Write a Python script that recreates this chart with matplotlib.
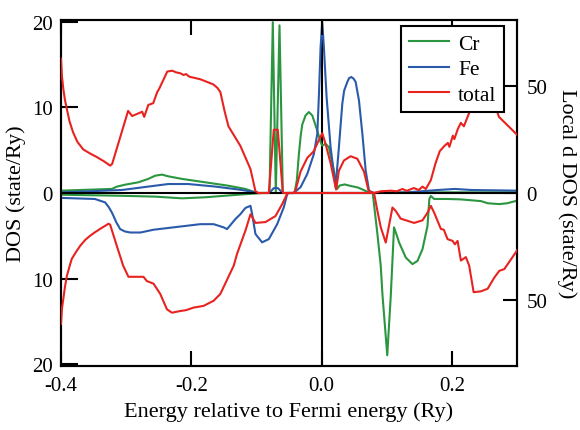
import matplotlib
matplotlib.use("Agg")
import matplotlib.pyplot as plt
from matplotlib.lines import Line2D

plt.rcParams['font.family'] = ['Liberation Serif', 'DejaVu Serif']

# ---------------- data ----------------
# total DOS (state/Ry), left axis; spin-down plotted as negative
total_up_x = [-0.400, -0.3985, -0.3965, -0.394, -0.391, -0.387, -0.3815, -0.375, -0.366,
              -0.355, -0.345, -0.334, -0.3246, -0.3215,
              -0.297, -0.2908, -0.2754, -0.2723, -0.266, -0.2585, -0.2523, -0.2492, -0.2369,
              -0.2292, -0.223, -0.2169, -0.212, -0.208, -0.203, -0.1862, -0.1662, -0.160,
              -0.1554, -0.149, -0.143, -0.1246, -0.1092, -0.1015, -0.097, -0.081, -0.0734,
              -0.0672, -0.0595, -0.043, -0.040, -0.0323, -0.022, -0.0118, -0.0066, 0.0011,
              0.0062, 0.0138, 0.0223, 0.0266, 0.0343, 0.0446, 0.0549, 0.0651, 0.0723, 0.080,
              0.0908, 0.1062, 0.1154, 0.1242, 0.1308, 0.1415, 0.1492, 0.1549, 0.160, 0.1677,
              0.175, 0.1815, 0.1885, 0.1938, 0.1962, 0.2015, 0.2038, 0.2092, 0.2138, 0.2185,
              0.2246, 0.232, 0.242, 0.252, 0.262, 0.2723, 0.283, 0.291, 0.3015]
total_up_y = [15.7, 13.6, 12.2, 10.9, 9.8, 8.4, 7.1, 6.0, 5.1,
              4.6, 4.2, 3.7, 3.2, 3.4,
              9.6, 9.0, 9.5, 8.9, 10.3, 10.5, 11.8, 12.2, 14.2,
              14.3, 14.1, 14.0, 13.8, 13.9, 13.6, 13.3, 12.7, 12.3,
              11.8, 9.6, 7.8, 5.5, 2.8, 0.2, 0.0, 0.0, 7.4,
              7.4, 0.0, 0.0, 0.3, 2.5, 4.1, 4.9, 5.8, 7.0,
              5.7, 3.5, 0.4, 2.6, 3.8, 4.3, 4.0, 2.5, 0.2, 0.0,
              0.2, 0.27, 0.2, 0.47, 0.25, 0.58, 0.35, 0.74, 0.47, 1.5,
              3.5, 4.9, 5.5, 5.85, 5.4, 6.7, 6.3, 7.5, 8.2, 7.8,
              9.0, 10.3, 11.6, 12.3, 11.2, 8.9, 8.1, 7.5, 6.7]

total_dn_x = [-0.400, -0.3985, -0.3965, -0.394, -0.391, -0.387, -0.3835, -0.377, -0.3708,
              -0.363, -0.3554, -0.348, -0.340, -0.3272, -0.3246, -0.3143, -0.3046, -0.2965,
              -0.2734, -0.2682, -0.258, -0.2477, -0.2374, -0.2297, -0.2169, -0.208, -0.1965,
              -0.1811, -0.1657, -0.1554, -0.1349, -0.1297, -0.1169, -0.1092, -0.1066, -0.1015,
              -0.0862, -0.0708, -0.0605, -0.0523, 0.0805, 0.0857, 0.0908, 0.0985, 0.1088,
              0.1138, 0.1215, 0.142, 0.1549, 0.1626, 0.1677, 0.1728, 0.1831, 0.1877, 0.1934,
              0.2011, 0.2046, 0.2088, 0.2138, 0.2215, 0.2266, 0.2334, 0.2446, 0.2549, 0.2651,
              0.2728, 0.2805, 0.2985, 0.3015]
total_dn_y = [-15.3, -13.5, -12.4, -11.0, -9.7, -8.6, -7.7, -6.9, -6.2,
              -5.5, -5.0, -4.6, -4.2, -3.6, -3.7, -6.2, -8.5, -9.8,
              -9.8, -10.3, -10.6, -11.8, -13.6, -14.0, -13.8, -13.7, -13.4,
              -13.2, -12.6, -11.8, -8.5, -7.1, -4.4, -2.5, -2.8, -3.5,
              -3.4, -2.7, -1.3, 0.0, 0.0, -2.1, -4.0, -5.8, -1.7,
              -2.1, -3.0, -3.5, -3.2, -2.3, -1.5, -2.3, -4.2, -4.3, -5.4,
              -5.6, -6.0, -5.6, -7.9, -7.5, -8.5, -11.6, -11.5, -11.2, -9.9,
              -9.1, -8.9, -6.9, -6.5]

# local d DOS (state/Ry), right axis
cr_up_x = [-0.400, -0.322, -0.314, -0.3015, -0.2815, -0.266, -0.2554, -0.245, -0.2354,
           -0.2143, -0.1785, -0.143, -0.117, -0.1015, -0.097, -0.080, -0.0749, -0.0703,
           -0.0646, -0.0595, -0.0415, -0.038, -0.0349, -0.032, -0.0297, -0.0246, -0.0195,
           -0.0143, -0.0066, -0.0015, 0.001, 0.0062, 0.0112, 0.0189, 0.0242, 0.0277,
           0.0354, 0.0446, 0.0554, 0.0646, 0.0723, 0.080, 0.150, 0.300]
cr_up_y = [1.1, 1.9, 3.0, 3.9, 5.0, 6.6, 8.1, 8.6, 7.8,
           6.6, 5.0, 3.4, 1.9, 0.3, 0.0, 0.0, 80.0, 0.0,
           78.5, 0.0, 0.0, 6.0, 18.0, 27.0, 32.0, 36.3, 37.9,
           36.3, 29.2, 23.8, 22.2, 23.0, 21.5, 10.5, 2.0, 3.5,
           4.0, 3.3, 2.6, 1.4, 0.2, 0.0, 0.3, 0.3]

cr_dn_x = [-0.400, -0.308, -0.2554, -0.2143, -0.1785, -0.1277, -0.100, -0.090, 0.0785,
           0.0857, 0.0908, 0.0934, 0.1008, 0.1062, 0.1112, 0.1165, 0.1189, 0.1292, 0.1395,
           0.1472, 0.1549, 0.1626, 0.1654, 0.1677, 0.1728, 0.1934, 0.2138, 0.2446, 0.255,
           0.2728, 0.285, 0.300]
cr_dn_y = [-0.8, -1.3, -1.7, -2.5, -2.0, -0.8, -0.2, 0.0, 0.0,
           -19.2, -34.0, -47.4, -76.0, -48.2, -16.1, -20.8, -23.1, -30.2, -33.3,
           -31.8, -26.3, -15.4, -2.8, -1.4, -2.8, -2.8, -3.0, -3.8, -4.8,
           -5.2, -4.8, -3.6]

fe_up_x = [-0.400, -0.3066, -0.266, -0.2354, -0.2046, -0.163, -0.122, -0.1015, -0.097,
           -0.080, -0.0734, -0.0672, -0.0595, -0.043, -0.0323, -0.022, -0.0118, -0.0066,
           -0.0042, -0.0015, 0.001, 0.0035, 0.0077, 0.0138, 0.0215, 0.0266, 0.0318, 0.0346,
           0.0395, 0.0423, 0.0457, 0.0492, 0.0523, 0.0574, 0.0626, 0.0677, 0.0728, 0.080,
           0.130, 0.1785, 0.2046, 0.230, 0.300]
fe_up_y = [0.3, 1.4, 3.0, 4.2, 4.2, 3.0, 1.4, 0.3, 0.0,
           0.0, 2.3, 2.3, 0.0, 0.0, 2.7, 8.9, 18.3, 27.7,
           44.9, 68.4, 80.1, 68.4, 44.9, 21.5, 2.7, 21.5, 41.8, 47.9,
           52.0, 53.8, 54.3, 53.5, 52.0, 43.3, 27.7, 10.5, 1.1, 0.0,
           0.3, 1.4, 1.9, 1.4, 1.1]

fe_dn_x = [-0.400, -0.348, -0.3323, -0.327, -0.322, -0.3195, -0.315, -0.3092, -0.302,
           -0.2938, -0.278, -0.258, -0.2277, -0.1862, -0.1657, -0.1503, -0.1451, -0.1323,
           -0.1246, -0.1169, -0.1092, -0.1066, -0.1015, -0.0913, -0.081, -0.0682, -0.058,
           -0.0528, -0.050, 0.300]
fe_dn_y = [-2.3, -2.8, -4.4, -6.5, -9.1, -10.7, -13.8, -16.9, -18.0,
           -18.5, -18.5, -17.2, -16.1, -14.6, -14.6, -16.1, -16.9, -12.2,
           -9.9, -7.0, -6.0, -9.9, -19.2, -23.1, -21.6, -14.6, -6.7,
           -0.5, 0.0, 0.0]

x_ticks = [-0.4, -0.2, 0.0, 0.2]
x_ticklabels = ['-0.4', '-0.2', '0.0', '0.2']
left_ticks = [-20, -10, 0, 10, 20]
left_ticklabels = ['20', '10', '0', '10', '20']
right_ticks = [-50, 0, 50]
right_ticklabels = ['50', '0', '50']

# ---------------- styles ----------------
C_CR = '#2a9640'
C_FE = '#2a5aaa'
C_TOT = '#e8231f'
LW = 1.5
FS_TICK = 15
FS_LAB = 16
FS_LEG = 15.5

fig = plt.figure(figsize=(5.8, 4.31), dpi=100)
ax = fig.add_axes([0.1052, 0.1485, 0.7862, 0.8028])
ax2 = ax.twinx()
ax.set_zorder(ax2.get_zorder() + 1)
ax.patch.set_visible(False)

ax.axhline(0, color='black', lw=1.5, zorder=1)
ax2.axvline(0, color='black', lw=1.5, zorder=1)

ax2.plot(cr_up_x, cr_up_y, color=C_CR, lw=LW, zorder=2)
ax2.plot(cr_dn_x, cr_dn_y, color=C_CR, lw=LW, zorder=2)
ax2.plot(fe_up_x, fe_up_y, color=C_FE, lw=LW, zorder=3)
ax2.plot(fe_dn_x, fe_dn_y, color=C_FE, lw=LW, zorder=3)
ax.plot(total_up_x, total_up_y, color=C_TOT, lw=LW, zorder=4)
ax.plot(total_dn_x, total_dn_y, color=C_TOT, lw=LW, zorder=4)

ax.set_xlim(-0.4, 0.3)
ax.set_ylim(-20.23, 20.23)
ax2.set_ylim(-81.0, 81.0)

ax.set_xticks(x_ticks)
ax.set_xticklabels(x_ticklabels)
ax.set_yticks(left_ticks)
ax.set_yticklabels(left_ticklabels)
ax2.set_yticks(right_ticks)
ax2.set_yticklabels(right_ticklabels)

ax.tick_params(axis='x', direction='in', length=11, width=1.5, top=True, bottom=True,
               pad=7, labelsize=FS_TICK)
ax.tick_params(axis='y', direction='in', length=12, width=1.5, left=True, right=False,
               pad=6, labelsize=FS_TICK)
ax2.tick_params(axis='y', direction='in', length=10, width=1.5, left=False, right=True,
                pad=7, labelsize=FS_TICK)

for a in (ax, ax2):
    for s in a.spines.values():
        s.set_linewidth(1.5)
        s.set_color('black')

ax.set_xlabel('Energy relative to Fermi energy (Ry)', fontsize=FS_LAB, labelpad=5)
ax.set_ylabel('DOS (state/Ry)', fontsize=FS_LAB, labelpad=4)
ax2.set_ylabel('Local d DOS (state/Ry)', fontsize=FS_LAB, rotation=270, labelpad=21)

handles = [Line2D([], [], color=C_CR, lw=LW),
           Line2D([], [], color=C_FE, lw=LW),
           Line2D([], [], color=C_TOT, lw=LW)]
leg = ax.legend(handles, ['Cr', 'Fe', 'total'], loc='upper right',
                bbox_to_anchor=(0.9715, 0.9818), borderaxespad=0, fontsize=FS_LEG,
                frameon=True, fancybox=False, framealpha=1, edgecolor='black',
                handlelength=1.86, handletextpad=0.42, labelspacing=0.25,
                borderpad=0.35)
leg.get_frame().set_linewidth(1.5)
leg.set_zorder(10)

fig.savefig('out.png', dpi=100)
